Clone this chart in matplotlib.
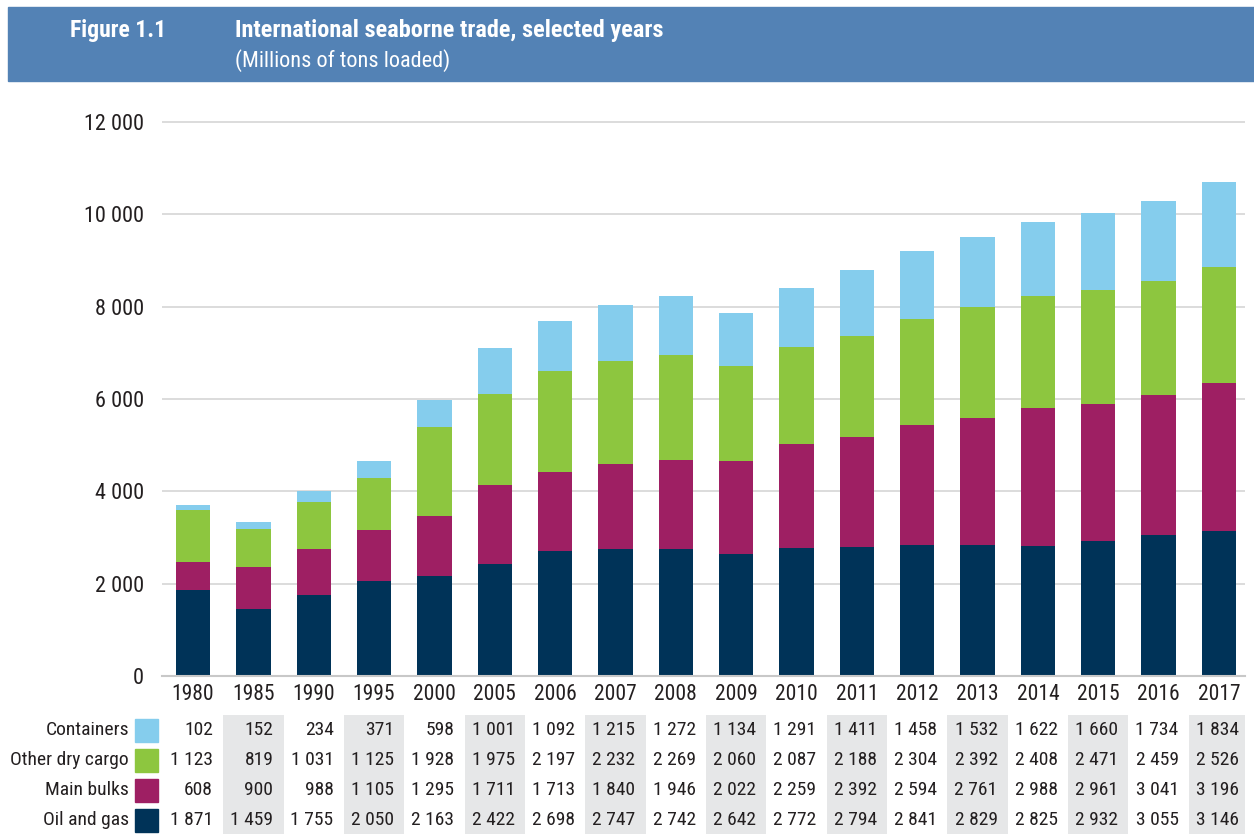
import matplotlib
matplotlib.use("Agg")
import matplotlib.pyplot as plt
from matplotlib.patches import Rectangle
from matplotlib.transforms import blended_transform_factory
import numpy as np

years = ["1980", "1985", "1990", "1995", "2000", "2005", "2006", "2007", "2008",
         "2009", "2010", "2011", "2012", "2013", "2014", "2015", "2016", "2017"]
containers = [102, 152, 234, 371, 598, 1001, 1092, 1215, 1272, 1134, 1291, 1411,
              1458, 1532, 1622, 1660, 1734, 1834]
other_dry = [1123, 819, 1031, 1125, 1928, 1975, 2197, 2232, 2269, 2060, 2087, 2188,
             2304, 2392, 2408, 2471, 2459, 2526]
main_bulks = [608, 900, 988, 1105, 1295, 1711, 1713, 1840, 1946, 2022, 2259, 2392,
              2594, 2761, 2988, 2961, 3041, 3196]
oil_gas = [1871, 1459, 1755, 2050, 2163, 2422, 2698, 2747, 2742, 2642, 2772, 2794,
           2841, 2829, 2825, 2932, 3055, 3146]
series_names = ["Containers", "Other dry cargo", "Main bulks", "Oil and gas"]
y_ticks = [0, 2000, 4000, 6000, 8000, 10000, 12000]

col_cont = "#85CDED"
col_dry = "#8DC63F"
col_bulk = "#9E1F63"
col_oil = "#003358"
txt = "#231F20"

plt.rcParams['font.family'] = ['Liberation Sans Narrow', 'Roboto Condensed',
                               'Liberation Sans', 'DejaVu Sans']

W, H = 1254, 834
fig = plt.figure(figsize=(W / 100, H / 100), dpi=100)

def fx(p):
    return p / W

def fy(p):
    return 1 - p / H

# Header band
fig.patches.append(Rectangle((fx(8), fy(81)), 1 - fx(8), (81 - 7) / H,
                             transform=fig.transFigure, color="#5382B5", zorder=0))
fig.text(fx(70), fy(37), "Figure 1.1", color="white", fontsize=17, fontweight="bold",
         va="baseline", ha="left")
fig.text(fx(235), fy(37), "International seaborne trade, selected years", color="white",
         fontsize=17.5, fontweight="bold", va="baseline", ha="left")
fig.text(fx(235), fy(67), "(Millions of tons loaded)", color="white",
         fontsize=16, va="baseline", ha="left")

# Main chart axes
left_px, right_px = 162, 1245
top_px, bot_px = 110, 676
ax = fig.add_axes([fx(left_px), fy(bot_px), (right_px - left_px) / W, (bot_px - top_px) / H])
x = np.arange(len(years))
step = (1219 - 193) / 17.0
xl = (left_px - 193) / step
xr = 17 + (right_px - 1219) / step
ax.set_xlim(xl, xr)
ytop = 12000 * (bot_px - top_px) / (bot_px - 122)
ax.set_ylim(0, ytop)

bw = 0.57
b1 = np.array(oil_gas)
b2 = b1 + np.array(main_bulks)
b3 = b2 + np.array(other_dry)
ax.bar(x, oil_gas, bw, color=col_oil, zorder=3)
ax.bar(x, main_bulks, bw, bottom=b1, color=col_bulk, zorder=3)
ax.bar(x, other_dry, bw, bottom=b2, color=col_dry, zorder=3)
ax.bar(x, containers, bw, bottom=b3, color=col_cont, zorder=3)

ax.set_yticks(y_ticks)
ax.set_yticklabels([f"{v:,}".replace(",", " ") for v in y_ticks])
ax.set_xticks(x)
ax.set_xticklabels(years)
ax.tick_params(axis="both", length=0, colors=txt)
ax.tick_params(axis="y", pad=13, labelsize=16)
ax.tick_params(axis="x", pad=6, labelsize=15.5)
ax.grid(axis="y", color="#D9D9D9", linewidth=1.3, zorder=0)
for s in ["top", "right", "left"]:
    ax.spines[s].set_visible(False)
ax.spines["bottom"].set_color("#C8C8C8")
ax.spines["bottom"].set_linewidth(1.5)
ax.spines["bottom"].set_zorder(4)

# Table axes
t_top, t_bot = 715, 835
axt = fig.add_axes([fx(left_px), fy(t_bot), (right_px - left_px) / W, (t_bot - t_top) / H])
axt.set_xlim(xl, xr)
axt.set_ylim(4, 0)
axt.axis("off")
for i in range(len(years)):
    if i % 2 == 1:
        axt.axvspan(i - 0.5, i + 0.5, color="#E6E7E8", zorder=0, lw=0)

rows = [containers, other_dry, main_bulks, oil_gas]
cols = [col_cont, col_dry, col_bulk, col_oil]
tr = blended_transform_factory(fig.transFigure, axt.transData)
for r, (name, vals, c) in enumerate(zip(series_names, rows, cols)):
    yc = r + 0.5
    axt.text(fx(129), yc, name, transform=tr, ha="right", va="center",
             fontsize=14, color=txt, clip_on=False)
    axt.add_patch(Rectangle((fx(135), yc - 23 / 60), 23 / W, 23 / 30, transform=tr,
                            color=c, clip_on=False))
    for i, v in enumerate(vals):
        axt.text(i + 0.5 - 0.17, yc, f"{v:,}".replace(",", " "), ha="right", va="center",
                 fontsize=14, color=txt)

fig.savefig("out.png", dpi=100)
